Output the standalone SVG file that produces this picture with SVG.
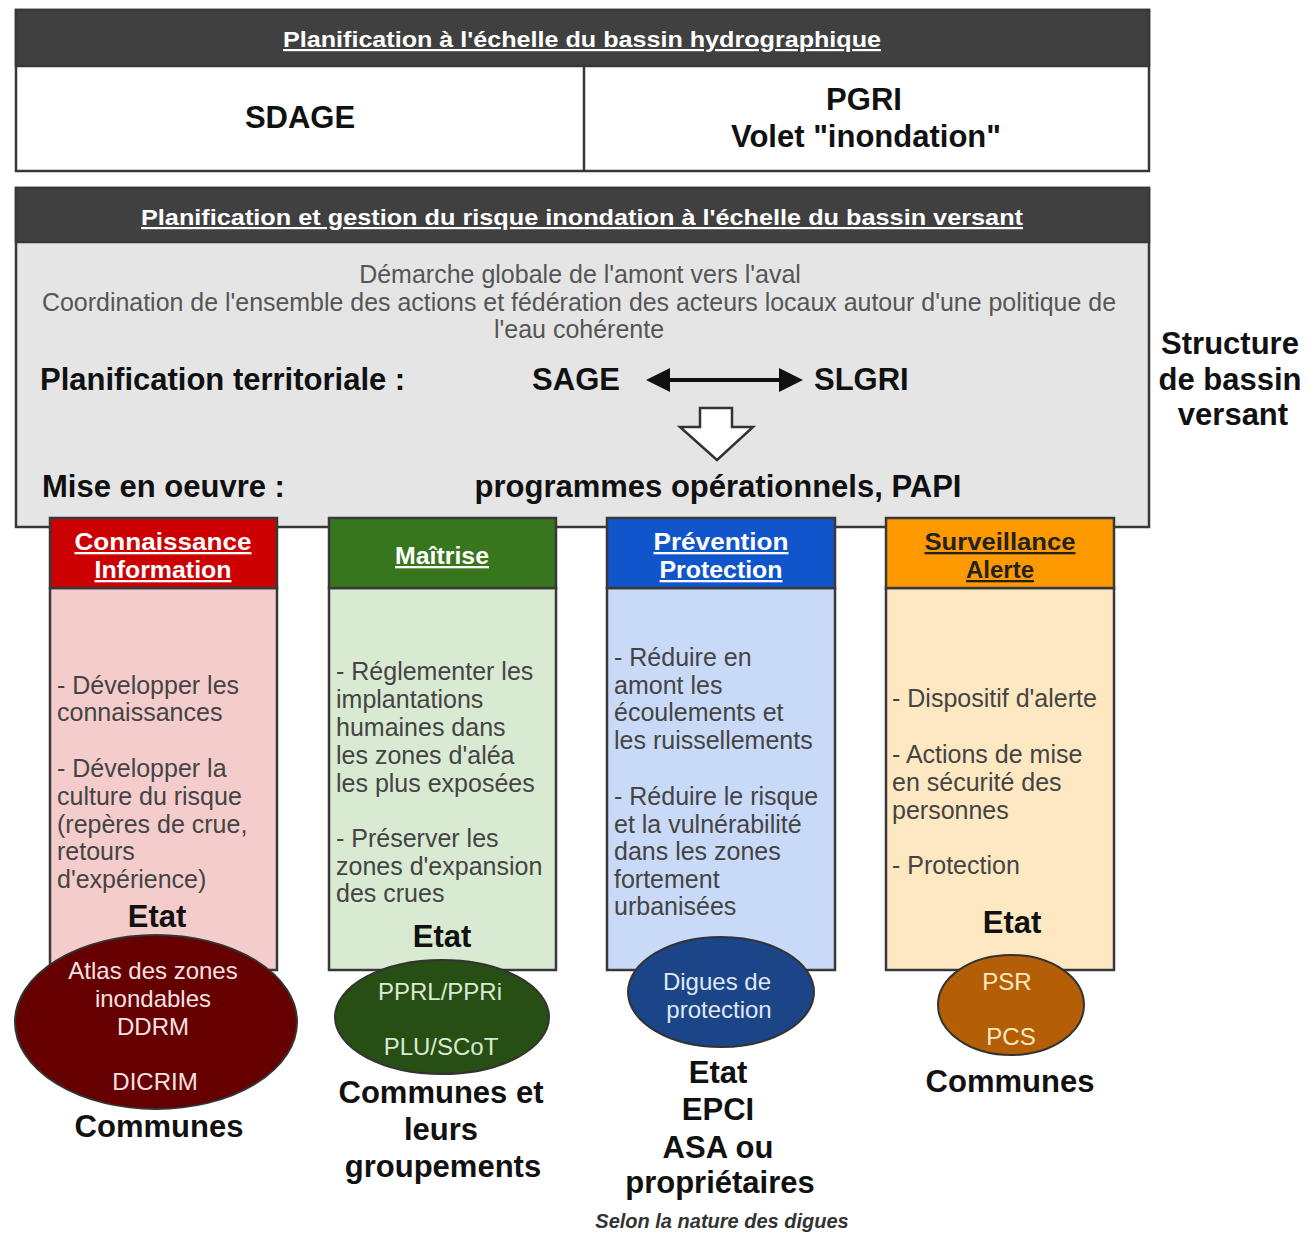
<svg xmlns="http://www.w3.org/2000/svg" width="1309" height="1233" viewBox="0 0 1309 1233">
<style>
  text { font-family: "Liberation Sans", Arial, sans-serif; }
  .hdr { font-size: 22px; font-weight: bold; fill: #ffffff; text-decoration: underline; text-anchor: middle; }
  .big { font-size: 31px; font-weight: bold; fill: #111; }
  .bigc { font-size: 31px; font-weight: bold; fill: #111; text-anchor: middle; }
  .grey { font-size: 25px; fill: #555; text-anchor: middle; }
  .body { font-size: 25px; fill: #444; }
  .colh { font-size: 23px; font-weight: bold; fill: #fff; text-decoration: underline; text-anchor: middle; }
  .elt { font-size: 24px; text-anchor: middle; }
  .box { stroke: #383838; stroke-width: 2.5; }
  .band { fill: #404040; }
  .ell { stroke: #333; stroke-width: 2; }
</style>
<rect width="1309" height="1233" fill="#ffffff"/>

<g id="bassin-hydrographique">
  <rect x="16" y="10" width="1133" height="161" fill="#ffffff" class="box"/>
  <rect x="16" y="10" width="1133" height="56" class="band box"/>
  <line x1="584" y1="66" x2="584" y2="171" stroke="#383838" stroke-width="2.5"/>
  <text x="582" y="47" class="hdr" textLength="598" lengthAdjust="spacingAndGlyphs">Planification à l'échelle du bassin hydrographique</text>
  <text x="300" y="128" class="bigc">SDAGE</text>
  <text x="864" y="110" class="bigc">PGRI</text>
  <text x="866" y="147" class="bigc">Volet "inondation"</text>
</g>

<g id="bassin-versant">
  <rect x="16" y="188" width="1133" height="339" fill="#e5e5e5" class="box"/>
  <rect x="16" y="188" width="1133" height="54" class="band box"/>
  <text x="582" y="225" class="hdr" textLength="882" lengthAdjust="spacingAndGlyphs">Planification et gestion du risque inondation à l'échelle du bassin versant</text>
  <text x="580" y="283" class="grey">Démarche globale de l'amont vers l'aval</text>
  <text x="579" y="311" class="grey" textLength="1074" lengthAdjust="spacingAndGlyphs">Coordination de l'ensemble des actions et fédération des acteurs locaux autour d'une politique de</text>
  <text x="579" y="338" class="grey">l'eau cohérente</text>
  <text x="40" y="390" class="big">Planification territoriale :</text>
  <text x="576" y="390" class="bigc">SAGE</text>
  <text x="814" y="390" class="big">SLGRI</text>
  <text x="42" y="497" class="big">Mise en oeuvre :</text>
  <text x="718" y="497" class="bigc">programmes opérationnels, PAPI</text>
</g>

<g id="structure-label">
  <text x="1230" y="354" class="bigc">Structure</text>
  <text x="1230" y="390" class="bigc">de bassin</text>
  <text x="1233" y="425" class="bigc">versant</text>
</g>

<g id="connectors">
  <line x1="668" y1="380" x2="782" y2="380" stroke="#111" stroke-width="4"/>
  <polygon points="646,380 670,368 670,392" fill="#111"/>
  <polygon points="803,380 779,368 779,392" fill="#111"/>
  <polygon points="700,408 732,408 732,427 753,427 717,460 680,427 700,427" fill="#ffffff" stroke="#333" stroke-width="2.5"/>
</g>

<g id="col-connaissance">
  <rect x="50" y="588" width="227" height="382" fill="#f4cccc" class="box"/>
  <rect x="50" y="518" width="227" height="70" fill="#cc0000" class="box"/>
  <text x="163" y="550" class="colh" textLength="177" lengthAdjust="spacingAndGlyphs">Connaissance </text>
  <text x="163" y="578" class="colh" textLength="137" lengthAdjust="spacingAndGlyphs">Information</text>
  <text x="57" y="694" class="body">- Développer les</text>
  <text x="57" y="721" class="body">connaissances</text>
  <text x="57" y="777" class="body">- Développer la</text>
  <text x="57" y="805" class="body">culture du risque</text>
  <text x="57" y="833" class="body">(repères de crue,</text>
  <text x="57" y="860" class="body">retours</text>
  <text x="57" y="888" class="body">d'expérience)</text>
  <text x="157" y="927" class="bigc">Etat</text>
</g>

<g id="col-maitrise">
  <rect x="329" y="588" width="227" height="382" fill="#d9ead3" class="box"/>
  <rect x="329" y="518" width="227" height="70" fill="#38761d" class="box"/>
  <text x="442" y="564" class="colh" textLength="94" lengthAdjust="spacingAndGlyphs">Maîtrise</text>
  <text x="336" y="680" class="body">- Réglementer les</text>
  <text x="336" y="708" class="body">implantations</text>
  <text x="336" y="736" class="body">humaines dans</text>
  <text x="336" y="764" class="body">les zones d'aléa</text>
  <text x="336" y="792" class="body">les plus exposées</text>
  <text x="336" y="847" class="body">- Préserver les</text>
  <text x="336" y="875" class="body">zones d'expansion</text>
  <text x="336" y="902" class="body">des crues</text>
  <text x="442" y="947" class="bigc">Etat</text>
</g>

<g id="col-prevention">
  <rect x="607" y="588" width="228" height="382" fill="#c9daf8" class="box"/>
  <rect x="607" y="518" width="228" height="70" fill="#1155cc" class="box"/>
  <text x="721" y="550" class="colh" textLength="135" lengthAdjust="spacingAndGlyphs">Prévention </text>
  <text x="721" y="578" class="colh" textLength="123" lengthAdjust="spacingAndGlyphs">Protection</text>
  <text x="614" y="666" class="body">- Réduire en</text>
  <text x="614" y="694" class="body">amont les</text>
  <text x="614" y="721" class="body">écoulements et</text>
  <text x="614" y="749" class="body">les ruissellements</text>
  <text x="614" y="805" class="body">- Réduire le risque</text>
  <text x="614" y="833" class="body">et la vulnérabilité</text>
  <text x="614" y="860" class="body">dans les zones</text>
  <text x="614" y="888" class="body">fortement</text>
  <text x="614" y="915" class="body">urbanisées</text>
</g>

<g id="col-surveillance">
  <rect x="886" y="588" width="228" height="382" fill="#fde8c2" class="box"/>
  <rect x="886" y="518" width="228" height="70" fill="#ff9900" class="box"/>
  <text x="1000" y="550" class="colh" style="fill:#222" textLength="151" lengthAdjust="spacingAndGlyphs">Surveillance </text>
  <text x="1000" y="578" class="colh" style="fill:#222" textLength="68" lengthAdjust="spacingAndGlyphs">Alerte</text>
  <text x="892" y="707" class="body">- Dispositif d'alerte</text>
  <text x="892" y="763" class="body">- Actions de mise</text>
  <text x="892" y="791" class="body">en sécurité des</text>
  <text x="892" y="819" class="body">personnes</text>
  <text x="892" y="874" class="body">- Protection</text>
  <text x="1012" y="933" class="bigc">Etat</text>
</g>

<g id="ell-connaissance">
  <ellipse cx="156" cy="1022" rx="141" ry="87" fill="#660000" class="ell"/>
  <text x="153" y="979" class="elt" fill="#f6e2e2">Atlas des zones</text>
  <text x="153" y="1007" class="elt" fill="#f6e2e2">inondables</text>
  <text x="153" y="1035" class="elt" fill="#f6e2e2">DDRM</text>
  <text x="155" y="1090" class="elt" fill="#f6e2e2">DICRIM</text>
  <text x="159" y="1137" class="bigc">Communes</text>
</g>

<g id="ell-maitrise">
  <ellipse cx="442" cy="1017" rx="107" ry="57" fill="#274e13" class="ell"/>
  <text x="440" y="1000" class="elt" fill="#d9ead3">PPRL/PPRi</text>
  <text x="441" y="1055" class="elt" fill="#d9ead3">PLU/SCoT</text>
  <text x="441" y="1103" class="bigc">Communes et</text>
  <text x="441" y="1140" class="bigc">leurs</text>
  <text x="443" y="1177" class="bigc">groupements</text>
</g>

<g id="ell-prevention">
  <ellipse cx="721" cy="992" rx="93" ry="55" fill="#1c4587" class="ell"/>
  <text x="717" y="990" class="elt" fill="#dfe8f8">Digues de</text>
  <text x="719" y="1018" class="elt" fill="#dfe8f8">protection</text>
  <text x="718" y="1083" class="bigc">Etat</text>
  <text x="718" y="1120" class="bigc">EPCI</text>
  <text x="718" y="1158" class="bigc">ASA ou</text>
  <text x="720" y="1193" class="bigc">propriétaires</text>
  <text x="722" y="1228" font-size="20" font-weight="bold" font-style="italic" fill="#333" text-anchor="middle">Selon la nature des digues</text>
</g>

<g id="ell-surveillance">
  <ellipse cx="1011" cy="1005" rx="73" ry="50" fill="#b45f06" class="ell"/>
  <text x="1007" y="990" class="elt" fill="#fde8c2">PSR</text>
  <text x="1011" y="1045" class="elt" fill="#fde8c2">PCS</text>
  <text x="1010" y="1092" class="bigc">Communes</text>
</g>
</svg>
